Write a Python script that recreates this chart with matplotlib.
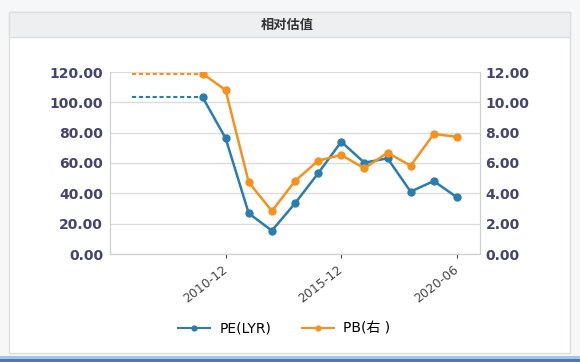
import matplotlib
matplotlib.use('Agg')
import matplotlib.pyplot as plt
import matplotlib.transforms as mtransforms
from matplotlib.patches import Rectangle
import numpy as np

plt.rcParams['font.family'] = ['DejaVu Sans', 'Noto Sans CJK SC']

# data
periods = ['2009-12', '2010-12', '2011-12', '2012-12', '2013-12', '2014-12',
           '2015-12', '2016-12', '2017-12', '2018-12', '2019-12', '2020-06']
pe_lyr = [103.5, 76.3, 26.8, 15.4, 33.4, 53.2, 74.0, 60.2, 63.1, 41.1, 48.1, 37.4]
pb = [11.9, 10.8, 4.73, 2.83, 4.81, 6.15, 6.53, 5.65, 6.68, 5.82, 7.91, 7.73]
shown_ticks = ['2010-12', '2015-12', '2020-06']

W, H = 580, 362
fig = plt.figure(figsize=(W / 100, H / 100), dpi=100)
fig.patch.set_facecolor('#f6f7f9')

def px_rect(x0, y0, x1, y1, **kw):
    # rectangle in pixel coords (top-left origin) on the figure
    r = Rectangle((x0 / W, 1 - y1 / H), (x1 - x0) / W, (y1 - y0) / H,
                  transform=fig.transFigure, zorder=-10, **kw)
    fig.patches.append(r)

# panel + title bar
px_rect(9, 12, 570, 353, facecolor='white', edgecolor='#dedede', lw=1)
px_rect(9, 12, 570, 37, facecolor='#eeeff0', edgecolor='#dedede', lw=1)
# bottom blue strip
px_rect(0, 356, 580, 359, facecolor='#a9c3e6', edgecolor='none')
px_rect(0, 359, 580, 362, facecolor='#4a78b8', edgecolor='none')

fig.text(287 / W, 1 - 25 / H, '相对估值', ha='center', va='center',
         fontsize=9.5, fontweight='bold', color='#333333',
         family=['Noto Sans CJK SC', 'DejaVu Sans'])

ax = fig.add_axes([110 / W, 1 - 254 / H, 370 / W, 182 / H])
ax2 = ax.twinx()
ax.set_facecolor('none')

x = np.arange(len(periods))
blue = '#2a7dad'
orange = '#f5921e'

ax.plot(x, pe_lyr, color=blue, lw=1.8, marker='o', ms=5, zorder=3)
ax.plot([-3.05, 0], [pe_lyr[0], pe_lyr[0]], color=blue, lw=1.5,
        ls=(0, (2, 1.3)))
ax2.plot(x, pb, color=orange, lw=1.8, marker='o', ms=5, zorder=3)
ax2.plot([-3.05, 0], [pb[0], pb[0]], color=orange, lw=1.5,
         ls=(0, (2, 1.3)))

ax.set_xlim(-4, 12)
ax.set_ylim(0, 120)
ax2.set_ylim(0, 12)
ax.set_yticks(np.arange(0, 121, 20))
ax2.set_yticks(np.arange(0, 13, 2))
ax.set_yticklabels(['%.2f' % v for v in np.arange(0, 121, 20)])
ax2.set_yticklabels(['%.2f' % v for v in np.arange(0, 13, 2)])

ax.grid(axis='y', color='#dcdcdc', lw=1)
ax.set_axisbelow(True)

tick_pos = [periods.index(t) for t in shown_ticks]
ax.set_xticks(tick_pos)
ax.set_xticklabels(shown_ticks, rotation=38, ha='right', va='center',
                   rotation_mode='anchor', fontsize=9, color='#444444')
shift = mtransforms.ScaledTranslation(7 / 72, 0, fig.dpi_scale_trans)
for lbl in ax.get_xticklabels():
    lbl.set_transform(lbl.get_transform() + shift)
ax.tick_params(axis='x', length=3, color='#444444', pad=7)

lab_color = '#444470'
ax.tick_params(axis='y', length=0, pad=5, labelsize=10, labelcolor=lab_color)
ax2.tick_params(axis='y', length=0, pad=4, labelsize=10, labelcolor=lab_color)
for lbl in ax.get_yticklabels() + ax2.get_yticklabels():
    lbl.set_fontweight('bold')

for a in (ax, ax2):
    a.spines['top'].set_visible(False)
    for s in ('left', 'right', 'bottom'):
        a.spines[s].set_color('#d0d0d0')

h1, = ax.plot([], [], color=blue, lw=1.5, marker='o', ms=3.5)
h2, = ax.plot([], [], color=orange, lw=1.5, marker='o', ms=3.5)
fig.legend([h1, h2], ['PE(LYR)', 'PB(右 )'], loc='center',
           bbox_to_anchor=(284 / W, 1 - 329 / H), ncol=2, frameon=False,
           fontsize=10, handlelength=2.3, columnspacing=2.2, handletextpad=0.7)

fig.savefig('out.png', dpi=100, facecolor=fig.get_facecolor())
